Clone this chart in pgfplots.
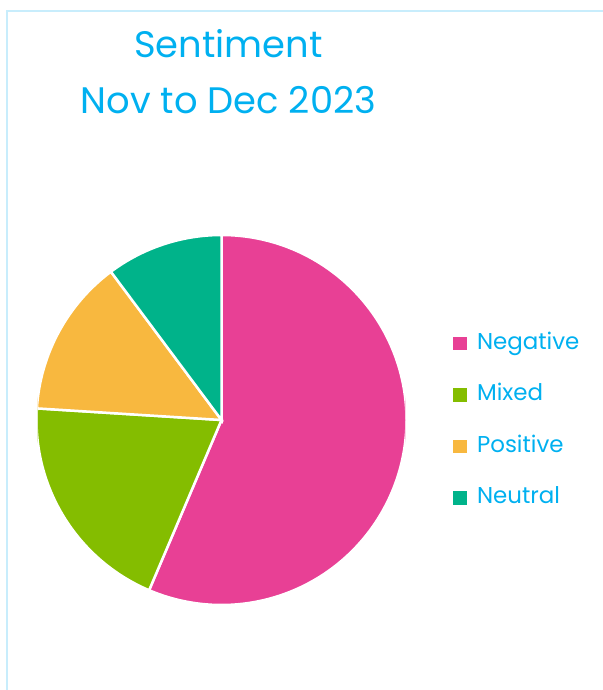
\documentclass[border=0pt]{standalone}
\usepackage{fontspec}
\setmainfont{Poppins}
\usepackage{pgfplots}
\usepackage{pgfplotstable}
\pgfplotsset{compat=1.18}

\definecolor{titlec}{HTML}{00B0F0}
\definecolor{framec}{HTML}{C8EDFC}
\definecolor{negc}{HTML}{E84095}
\definecolor{mixc}{HTML}{84BD00}
\definecolor{posc}{HTML}{F8B83F}
\definecolor{neuc}{HTML}{00B38A}

% share of each sentiment, in percent
\pgfplotstableread{
label    share
Negative 56.4
Mixed    19.6
Positive 13.8
Neutral  10.2
}\sentiment

\begin{document}
\begin{tikzpicture}
\useasboundingbox (0,0) rectangle (603bp,-690bp);
\draw[framec, line width=2bp] (6.5bp,-690bp) -- (6.5bp,-11bp) -- (603bp,-11bp);

\node[anchor=base, text=titlec, font=\fontsize{37}{44}\selectfont] at (228.5bp,-57bp) {Sentiment};
\node[anchor=base, text=titlec, font=\fontsize{37}{44}\selectfont] at (228.5bp,-113bp) {Nov to Dec 2023};

% slice angles, clockwise from the top
\pgfplotstablegetelem{0}{share}\of\sentiment \let\vA\pgfplotsretval
\pgfplotstablegetelem{1}{share}\of\sentiment \let\vB\pgfplotsretval
\pgfplotstablegetelem{2}{share}\of\sentiment \let\vC\pgfplotsretval
\pgfplotstablegetelem{3}{share}\of\sentiment \let\vD\pgfplotsretval
\pgfmathsetmacro\aA{90-3.6*\vA}
\pgfmathsetmacro\aB{\aA-3.6*\vB}
\pgfmathsetmacro\aC{\aB-3.6*\vC}
\pgfmathsetmacro\aD{\aC-3.6*\vD}

\begin{axis}[
    at={(221.5bp,-420bp)}, anchor=center,
    scale only axis, width=368bp, height=368bp,
    xmin=-1, xmax=1, ymin=-1, ymax=1,
    hide axis,
    legend style={
        at={(1.129,0.4986)}, anchor=west,
        draw=none, fill=none, inner sep=0pt,
        font=\fontsize{23}{28}\selectfont, text=titlec,
        row sep=29.5bp, column sep=11bp,
        nodes={text height=17bp, text depth=5bp, inner sep=0pt},
    },
    legend cell align=left,
]
\filldraw[fill=negc, draw=white, line width=2.5bp] (axis cs:0,0) -- ++(90:185bp) arc[start angle=90, end angle=\aA, radius=185bp] -- cycle;
\filldraw[fill=mixc, draw=white, line width=2.5bp] (axis cs:0,0) -- ++(\aA:185bp) arc[start angle=\aA, end angle=\aB, radius=185bp] -- cycle;
\filldraw[fill=posc, draw=white, line width=2.5bp] (axis cs:0,0) -- ++(\aB:185bp) arc[start angle=\aB, end angle=\aC, radius=185bp] -- cycle;
\filldraw[fill=neuc, draw=white, line width=2.5bp] (axis cs:0,0) -- ++(\aC:185bp) arc[start angle=\aC, end angle=\aD, radius=185bp] -- cycle;

\addlegendimage{legend image code/.code={\fill[negc] (0bp,-6bp) rectangle (12.5bp,6.5bp);}}
\addlegendentry{Negative}
\addlegendimage{legend image code/.code={\fill[mixc] (0bp,-6bp) rectangle (12.5bp,6.5bp);}}
\addlegendentry{Mixed}
\addlegendimage{legend image code/.code={\fill[posc] (0bp,-6bp) rectangle (12.5bp,6.5bp);}}
\addlegendentry{Positive}
\addlegendimage{legend image code/.code={\fill[neuc] (0bp,-6bp) rectangle (12.5bp,6.5bp);}}
\addlegendentry{Neutral}
\end{axis}
\end{tikzpicture}
\end{document}
